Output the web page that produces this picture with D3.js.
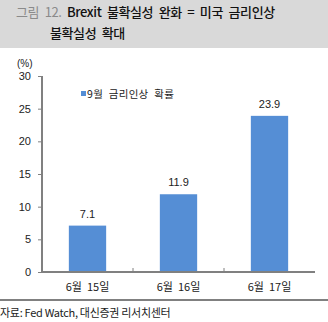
<!DOCTYPE html>
<html><head><meta charset="utf-8">
<script src="https://cdn.jsdelivr.net/npm/d3@7"></script>
<style>
body{margin:0;background:#fff;}
svg{display:block;}
text{font-family:"Liberation Sans","Noto Sans CJK KR",sans-serif;}
</style></head>
<body>
<svg id="c" width="328" height="322"></svg>
<script>
const categories = ["6월 15일", "6월 16일", "6월 17일"];
const values = [7.1, 11.9, 23.9];
const yTicks = [0, 5, 10, 15, 20, 25, 30];
const seriesName = "9월 금리인상 확률";
const titleLine1Prefix = "그림 12.";
const titleLine1 = "Brexit 불확실성 완화 = 미국 금리인상";
const titleLine2 = "불확실성 확대";
const unitLabel = "(%)";
const sourceText = "자료: Fed Watch, 대신증권 리서치센터";

const svg = d3.select("#c");
const kr = '"Noto Sans CJK KR","Liberation Sans",sans-serif';

// header
svg.append("rect").attr("x",0).attr("y",0).attr("width",328).attr("height",48).attr("fill","#d9d9d9");
const t1 = svg.append("text").attr("x",16).attr("y",17).attr("font-size",13).style("font-family",kr).attr("letter-spacing",-0.4).attr("word-spacing",3);
t1.append("tspan").attr("fill","#8a8a8a").text(titleLine1Prefix+" ");
t1.append("tspan").attr("fill","#111").attr("font-weight",500).text(titleLine1);
svg.append("text").attr("x",50).attr("y",38).attr("font-size",13).style("font-family",kr).attr("letter-spacing",-0.4).attr("word-spacing",3)
  .attr("fill","#111").attr("font-weight",500).text(titleLine2);

const x0 = 42, x1 = 315, yBase = 272, yTop = 76;
const x = d3.scaleBand().domain(categories).range([x0, x1]).paddingInner(0.59).paddingOuter(0.295);
const y = d3.scaleLinear().domain([0,30]).range([yBase, yTop]);

// bars
svg.selectAll("rect.bar").data(values).join("rect").attr("class","bar")
  .attr("x",(d,i)=>x(categories[i])).attr("width",x.bandwidth())
  .attr("y",d=>y(d)).attr("height",d=>y(0)-y(d)).attr("fill","#558ed5");

// value labels
svg.selectAll("text.val").data(values).join("text").attr("class","val")
  .attr("x",(d,i)=>x(categories[i])+x.bandwidth()/2).attr("y",d=>y(d)-8)
  .attr("text-anchor","middle").attr("font-size",11).attr("fill","#222").text(d=>d.toFixed(1));

// y axis
const yAxis = svg.append("g").attr("transform",`translate(${x0},0)`)
  .call(d3.axisLeft(y).tickValues(yTicks).tickSize(4).tickPadding(7));
yAxis.select(".domain").attr("stroke","#808080").attr("stroke-width",2).attr("d",`M0,${yTop}V${yBase}`);
yAxis.selectAll(".tick line").attr("stroke","#808080");
yAxis.selectAll(".tick text").attr("font-size",11).attr("fill","#222").style("font-family","Liberation Sans,sans-serif");

// x axis
const xAxis = svg.append("g").attr("transform",`translate(0,${yBase})`)
  .call(d3.axisBottom(x).tickSize(0).tickPadding(11));
xAxis.select(".domain").attr("stroke","#808080").attr("stroke-width",2).attr("d",`M${x0-1},0H${x1}`);
xAxis.selectAll(".tick text").attr("font-size",11).attr("fill","#222").style("font-family",kr).attr("word-spacing",2.5);
// band boundary ticks
const bounds = categories.slice(1).map(c=>x(c) - x.step()*x.paddingInner()/2);
xAxis.selectAll("line.bt").data(bounds).join("line").attr("class","bt")
  .attr("x1",d=>d).attr("x2",d=>d).attr("y1",-4).attr("y2",0).attr("stroke","#808080");

// unit label
svg.append("text").attr("x",17).attr("y",67).attr("font-size",10).attr("fill","#222").text(unitLabel);

// legend
svg.append("rect").attr("x",81).attr("y",91).attr("width",5).attr("height",5).attr("fill","#558ed5");
svg.append("text").attr("x",87).attr("y",97.5).attr("font-size",10.5).style("font-family",kr).attr("fill","#222").attr("letter-spacing",0.3).attr("word-spacing",3).text(seriesName);

// footer
svg.append("line").attr("x1",0).attr("x2",328).attr("y1",300).attr("y2",300).attr("stroke","#808080").attr("stroke-width",2);
svg.append("text").attr("x",0).attr("y",317).attr("font-size",11).style("font-family",kr).attr("fill","#222").attr("letter-spacing",-0.3).text(sourceText);
</script>
</body></html>
